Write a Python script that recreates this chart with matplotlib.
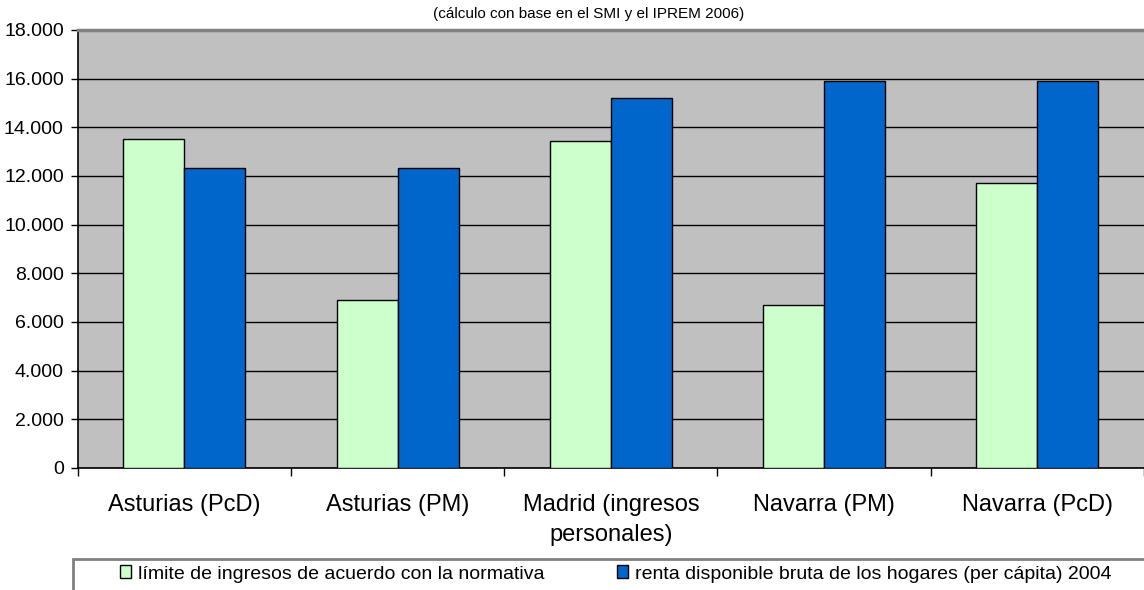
import numpy as np
import matplotlib
matplotlib.use("Agg")
import matplotlib.pyplot as plt
from matplotlib.patches import Rectangle

plt.rcParams['font.family'] = ['Liberation Sans', 'DejaVu Sans']

# datos
categorias = ['Asturias (PcD)', 'Asturias (PM)', 'Madrid (ingresos\npersonales)',
              'Navarra (PM)', 'Navarra (PcD)']
limite_ingresos = [13520, 6890, 13440, 6680, 11700]
renta_disponible = [12310, 12310, 15210, 15910, 15910]
y_ticks = [0, 2000, 4000, 6000, 8000, 10000, 12000, 14000, 16000, 18000]
y_labels = ['0', '2.000', '4.000', '6.000', '8.000', '10.000', '12.000',
            '14.000', '16.000', '18.000']

W, H = 1144, 590
fig = plt.figure(figsize=(W / 100, H / 100), dpi=100)
ax = fig.add_axes([77.7 / W, (H - 468) / H, 1 - 77.7 / W, (468 - 30) / H])
ax.set_facecolor('#C0C0C0')

x = np.arange(len(categorias))
ancho = 0.2857
ax.bar(x - ancho / 2, limite_ingresos, ancho, color='#CCFFCC', edgecolor='black',
       linewidth=1, zorder=3, label='límite de ingresos de acuerdo con la normativa')
ax.bar(x + ancho / 2, renta_disponible, ancho, color='#0066CC', edgecolor='black',
       linewidth=1, zorder=3, label='renta disponible bruta de los hogares (per cápita) 2004')

ax.set_ylim(0, 18000)
ax.set_xlim(-0.5, -0.5 + (W - 77.7) / 215.3)
ax.set_yticks(y_ticks)
ax.set_yticklabels(y_labels, fontsize=14)
ax.yaxis.grid(True, color='black', linewidth=1, zorder=1)
ax.tick_params(axis='y', length=5, width=1, pad=5)

ax.set_xticks(x)
ax.set_xticklabels(categorias, fontsize=17, linespacing=1.45)
ax.set_xticks(np.arange(len(categorias) + 1) - 0.5, minor=True)
ax.tick_params(axis='x', which='major', length=0, pad=19)
ax.tick_params(axis='x', which='minor', length=6, width=1)

ax.spines['top'].set_color('#808080')
ax.spines['top'].set_linewidth(2.5)
ax.spines['right'].set_visible(False)
ax.spines['left'].set_linewidth(1.2)
ax.spines['bottom'].set_linewidth(1.2)

fig.text(589 / W, 1 - 14 / H, '(cálculo con base en el SMI y el IPREM 2006)',
         ha='center', va='center', fontsize=11)

# marco de la leyenda (cortado por el borde)
fig.patches.append(Rectangle((73.3 / W, -0.1), 1.2, (H - 559) / H + 0.1,
                             transform=fig.transFigure, facecolor='white',
                             edgecolor='#808080', linewidth=2))
fig.legend(loc='center left', bbox_to_anchor=(112 / W, 1 - 574 / H), ncol=2,
           frameon=False, fontsize=14, handlelength=0.6, handleheight=0.6,
           handletextpad=0.35, columnspacing=3.7, borderaxespad=0)

fig.savefig('out.png', dpi=100)
